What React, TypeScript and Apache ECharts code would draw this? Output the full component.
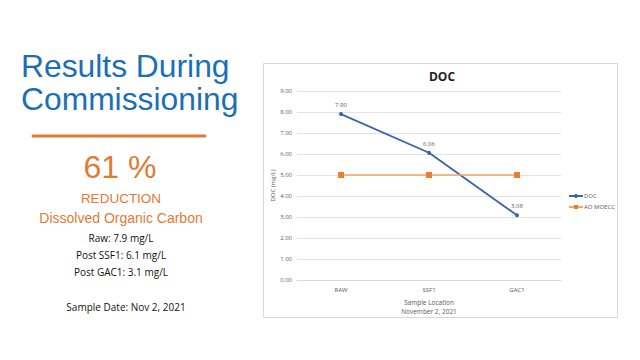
import React, { useEffect, useRef } from "react";
import * as echarts from "echarts";

const categories = ["RAW", "SSF1", "GAC1"];
const docValues = [7.9, 6.06, 3.08];
const aoValues = [5, 5, 5];
const yTicks = { min: 0, max: 9, interval: 1 };
const leftTexts = [
  "Raw: 7.9 mg/L",
  "Post SSF1: 6.1 mg/L",
  "Post GAC1: 3.1 mg/L",
];

export default function App() {
  const ref = useRef<HTMLDivElement>(null);
  useEffect(() => {
    if (!ref.current) return;
    const chart = echarts.init(ref.current, null, { renderer: "svg" });
    const sans = "'Liberation Sans', Arial, sans-serif";
    const body = "'Open Sans', 'Noto Sans', sans-serif";
    const blue = "#1b6fb7";
    const orange = "#e07b35";
    chart.setOption({
      animation: false,
      backgroundColor: "#ffffff",
      graphic: [
        { type: "rect", z: -10, shape: { x: 263.5, y: 63.5, width: 354, height: 254 }, style: { fill: "#fff", stroke: "#d9d9d9", lineWidth: 1 } },
        { type: "text", x: 21, y: 66, style: { text: "Results During", font: `31.8px ${sans}`, fill: blue, textVerticalAlign: "middle" } },
        { type: "text", x: 21, y: 99, style: { text: "Commissioning", font: `31.8px ${sans}`, fill: blue, textVerticalAlign: "middle" } },
        { type: "line", shape: { x1: 33, y1: 136, x2: 205, y2: 136 }, style: { stroke: orange, lineWidth: 3, lineCap: "round" } },
        { type: "text", x: 120, y: 167, style: { text: "61 %", font: `32px ${sans}`, fill: orange, textAlign: "center", textVerticalAlign: "middle" } },
        { type: "text", x: 121, y: 198, style: { text: "REDUCTION", font: `13.5px ${sans}`, fill: orange, textAlign: "center", textVerticalAlign: "middle" } },
        { type: "text", x: 121, y: 218, style: { text: "Dissolved Organic Carbon", font: `14px ${sans}`, fill: orange, textAlign: "center", textVerticalAlign: "middle" } },
        ...leftTexts.map((t, i) => ({ type: "text", x: 121, y: 238 + i * 17, style: { text: t, font: `10px ${body}`, fill: "#111", textAlign: "center", textVerticalAlign: "middle" } })),
        { type: "text", x: 126, y: 307, style: { text: "Sample Date: Nov 2, 2021", font: `10px ${body}`, fill: "#111", textAlign: "center", textVerticalAlign: "middle" } },
        { type: "text", x: 442, y: 76, style: { text: "DOC", font: `bold 12px ${body}`, fill: "#222", textAlign: "center", textVerticalAlign: "middle" } },
      ],
      grid: { left: 297, right: 79, top: 91, bottom: 80 },
      xAxis: {
        type: "category",
        data: categories,
        boundaryGap: true,
        axisLine: { lineStyle: { color: "#d9d9d9" } },
        axisTick: { show: false },
        axisLabel: { fontSize: 6, color: "#595959", margin: 7, fontFamily: body },
        name: "Sample Location\nNovember 2, 2021",
        nameLocation: "middle",
        nameGap: 13,
        nameTextStyle: { fontSize: 6.5, color: "#595959", lineHeight: 9, fontFamily: body },
      },
      yAxis: {
        type: "value",
        min: yTicks.min,
        max: yTicks.max,
        interval: yTicks.interval,
        axisLine: { show: false },
        axisTick: { show: false },
        splitLine: { lineStyle: { color: "#e3e3e3" } },
        axisLabel: { fontSize: 6, color: "#595959", margin: 5, fontFamily: body, formatter: (v: number) => v.toFixed(2) },
        name: "DOC (mg/L)",
        nameLocation: "middle",
        nameRotate: 90,
        nameGap: 21,
        nameTextStyle: { fontSize: 6, color: "#595959", fontFamily: body },
      },
      legend: {
        orient: "vertical",
        left: 563,
        top: 188,
        itemWidth: 14,
        itemHeight: 5,
        itemGap: 5,
        textStyle: { fontSize: 6, color: "#595959", fontFamily: body, padding: [0, 0, 0, -4] },
        data: ["DOC", "AO MOECC"],
      },
      series: [
        {
          name: "DOC",
          type: "line",
          data: docValues,
          symbol: "circle",
          symbolSize: 4,
          lineStyle: { color: "#3a63a8", width: 1.75 },
          itemStyle: { color: "#3a63a8" },
          label: { show: true, position: "top", distance: 4, fontSize: 6, color: "#595959", fontFamily: body, formatter: (p: any) => Number(p.value).toFixed(2) },
        },
        {
          name: "AO MOECC",
          type: "line",
          data: aoValues,
          symbol: "rect",
          symbolSize: 6,
          lineStyle: { color: "#f0a868", width: 1.5 },
          itemStyle: { color: "#ea7e33" },
        },
      ],
    });
    return () => chart.dispose();
  }, []);
  return <div ref={ref} style={{ position: "absolute", left: 0, top: 0, width: 640, height: 360 }} />;
}
